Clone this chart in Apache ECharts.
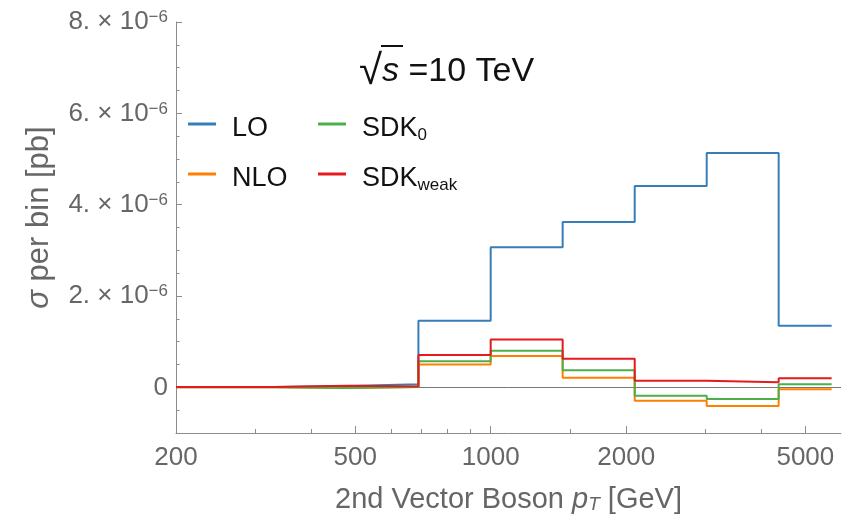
<!DOCTYPE html>
<html><head><meta charset="utf-8">
<script src="https://cdn.jsdelivr.net/npm/echarts@6/dist/echarts.min.js"></script>
<style>html,body{margin:0;padding:0;background:#fff}#c{width:851px;height:519px}</style>
</head><body><div id="c"></div>
<script>
// Bin edges of the 2nd vector boson pT [GeV]
const binEdges = [200, 331, 479, 691, 1000, 1445, 2089, 3019, 4362, 5720];
// Cross section per bin, in units of 1e-6 pb
const LO      = [0.005, 0.03, 0.066, 1.46, 3.07, 3.62, 4.41, 5.13, 1.35];
const NLO     = [0.0, -0.015, 0.01, 0.50, 0.685, 0.21, -0.293, -0.41, -0.044];
const SDK0    = [0.0, -0.015, 0.01, 0.57, 0.80, 0.372, -0.184, -0.256, 0.066];
const SDKweak = [0.005, 0.035, 0.02, 0.707, 1.05, 0.626, 0.145, 0.11, 0.197];
const seriesNames = ['LO', 'NLO', 'SDK0', 'SDKweak'];
const xMajorTicks = [200, 500, 1000, 2000, 5000];
const xMinorTicks = [300, 400, 600, 700, 800, 900, 1500, 3000, 4000];
const yMajorTicks = [0, 2, 4, 6, 8];
const yMinorTicks = [-0.5, 0.5, 1, 1.5, 2.5, 3, 3.5, 4.5, 5, 5.5, 6.5, 7, 7.5];
const yExponent = '\u22126';

const FONT = '"Liberation Sans", Arial, Helvetica, sans-serif';
const colors = ['#377EB8', '#FF7F00', '#4DAF4A', '#E41A1C'];
const axisGray = '#8c8c8c';
const labelGray = '#666666';

function steps(vals) {
  return binEdges.map((e, i) => [e, vals[Math.min(i, vals.length - 1)]]);
}

const chart = echarts.init(document.getElementById('c'), null, {renderer: 'canvas'});
const grid = {left: 176, right: 10, top: 22, bottom: 86};
const xMin = 200, xMax = 6000, yMin = -1, yMax = 8;

function legendAt(name, left, top) {
  return {
    data: [name], left: left, top: top, padding: 0, orient: 'vertical',
    icon: 'rect', itemWidth: 28, itemHeight: 3, selectedMode: false,
    formatter: function (n) {
      if (n === 'SDK0') return 'SDK{sub|0}';
      if (n === 'SDKweak') return 'SDK{sub|weak}';
      return n;
    },
    textStyle: {
      fontFamily: FONT, fontSize: 27, color: '#111', lineHeight: 30,
      padding: [10, 0, 0, 11],
      rich: {sub: {fontFamily: FONT, fontSize: 17, color: '#111', verticalAlign: 'bottom', lineHeight: 17}}
    }
  };
}

const option = {
  animation: false,
  backgroundColor: '#fff',
  color: colors,
  grid: grid,
  title: {
    text: '{r|\u221A}{s|s}{n| =10 TeV}',
    left: 359, top: 51, padding: 0,
    textStyle: {
      fontWeight: 'normal',
      rich: {
        r: {fontFamily: FONT, fontSize: 42, fontWeight: 'normal', color: '#111'},
        s: {fontFamily: FONT, fontSize: 34, fontWeight: 'normal', fontStyle: 'italic', color: '#111'},
        n: {fontFamily: FONT, fontSize: 34, fontWeight: 'normal', color: '#111'}
      }
    }
  },
  graphic: [{
    type: 'line', silent: true,
    shape: {x1: 381, y1: 46, x2: 403, y2: 46},
    style: {stroke: '#111', lineWidth: 2}
  }],
  legend: [
    legendAt('LO', 188, 104),
    legendAt('NLO', 188, 154),
    legendAt('SDK0', 318, 104),
    legendAt('SDKweak', 318, 154)
  ],
  xAxis: [{
    type: 'log', logBase: 10, min: xMin, max: xMax,
    position: 'bottom',
    name: '2nd Vector Boson {i|p}{sub|T} [GeV]',
    nameLocation: 'middle', nameGap: 52,
    nameTextStyle: {
      fontFamily: FONT, fontSize: 29, color: labelGray,
      rich: {
        i: {fontFamily: FONT, fontSize: 29, fontStyle: 'italic', color: labelGray},
        sub: {fontFamily: FONT, fontSize: 19, fontStyle: 'italic', color: labelGray, verticalAlign: 'bottom', lineHeight: 19}
      }
    },
    axisLine: {onZero: false, lineStyle: {color: axisGray, width: 1}},
    axisTick: {inside: true, length: 7, customValues: xMajorTicks, lineStyle: {color: axisGray}},
    axisLabel: {
      customValues: xMajorTicks, fontFamily: FONT, fontSize: 26, color: labelGray, margin: 12,
      formatter: function (v) { return String(Math.round(v)); }
    },
    splitLine: {show: false}, minorTick: {show: false}
  }, {
    type: 'log', logBase: 10, min: xMin, max: xMax, position: 'bottom',
    axisLine: {show: false, onZero: false},
    axisTick: {inside: true, length: 4, customValues: xMinorTicks, lineStyle: {color: axisGray}},
    axisLabel: {show: false}, splitLine: {show: false}
  }],
  yAxis: [{
    type: 'value', min: yMin, max: yMax, interval: 0.5,
    name: '{i|\u03C3} per bin [pb]',
    nameLocation: 'middle', nameGap: 121,
    nameTextStyle: {
      fontFamily: FONT, fontSize: 31, color: labelGray, padding: [0, 0, 0, 20],
      rich: {i: {fontFamily: FONT, fontSize: 31, fontStyle: 'italic', color: labelGray}}
    },
    axisLine: {show: true, onZero: false, lineStyle: {color: axisGray, width: 1}},
    axisTick: {show: true, inside: true, length: 6, customValues: yMajorTicks, lineStyle: {color: axisGray}},
    axisLabel: {
      customValues: yMajorTicks, margin: 8,
      formatter: function (v) {
        if (Math.abs(v) < 1e-9) return '{m|0}';
        return '{m|' + Math.round(v) + '. \u00D7 10}{s|' + yExponent + '}';
      },
      rich: {
        m: {fontFamily: FONT, fontSize: 26, color: labelGray},
        s: {fontFamily: FONT, fontSize: 17, color: labelGray, verticalAlign: 'top'}
      }
    },
    splitLine: {show: false}
  }, {
    type: 'value', min: yMin, max: yMax, interval: 0.5, position: 'left',
    axisLine: {show: false, onZero: false},
    axisTick: {show: true, inside: true, length: 3.5, customValues: yMinorTicks, lineStyle: {color: axisGray}},
    axisLabel: {show: false}, splitLine: {show: false}
  }],
  series: [LO, NLO, SDK0, SDKweak].map((vals, i) => ({
    name: seriesNames[i], type: 'line', step: 'end', showSymbol: false, symbol: 'none',
    xAxisIndex: 0, yAxisIndex: 0,
    data: steps(vals),
    lineStyle: {width: 2, color: colors[i]},
    itemStyle: {color: colors[i]},
    z: 3 + i,
    markLine: i === 0 ? {
      silent: true, symbol: ['none', 'none'], label: {show: false},
      lineStyle: {color: '#777', width: 1, type: 'solid'},
      data: [{yAxis: 0}], z: 1
    } : undefined
  }))
};
chart.setOption(option);
</script>
</body></html>
